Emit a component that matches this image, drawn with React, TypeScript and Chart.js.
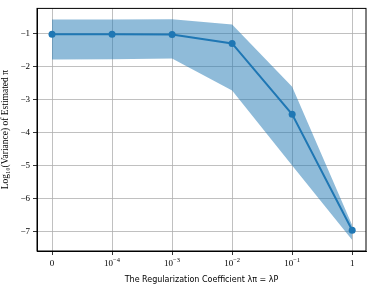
import React, { useEffect, useRef } from "react";
import { Chart, registerables } from "chart.js";

Chart.register(...registerables);

const categoryBase = ["0", "10", "10", "10", "10", "1"];
const categoryExp = ["", "−4", "−3", "−2", "−1", ""];
const meanValues = [-1.03, -1.03, -1.04, -1.31, -3.46, -6.97];
const upperValues = [-0.59, -0.59, -0.58, -0.74, -2.62, -6.82];
const lowerValues = [-1.80, -1.79, -1.77, -2.74, -5.01, -7.27];
const yTicks = [-7, -6, -5, -4, -3, -2, -1];

const blue = "#1f77b4";
const band = "rgba(31,119,180,0.5)";
const grid = "#b0b0b0";

export default function App() {
  const ref = useRef<HTMLCanvasElement | null>(null);
  useEffect(() => {
    const canvas = ref.current!;
    const pts = (arr: number[]) => arr.map((v, i) => ({ x: i, y: v }));
    const chart = new Chart(canvas, {
      type: "line",
      data: {
        datasets: [
          {
            data: pts(upperValues),
            borderWidth: 0,
            pointRadius: 0,
            backgroundColor: band,
            fill: "+1",
          },
          {
            data: pts(lowerValues),
            borderWidth: 0,
            pointRadius: 0,
            backgroundColor: band,
            fill: false,
          },
          {
            data: pts(meanValues),
            borderColor: blue,
            borderWidth: 2,
            pointRadius: 3.5,
            pointBackgroundColor: blue,
            pointBorderWidth: 0,
            fill: false,
          },
        ],
      },
      options: {
        responsive: false,
        animation: false,
        devicePixelRatio: 1,
        layout: { padding: { top: 6, right: 8, left: 0, bottom: 0 } },
        plugins: { legend: { display: false }, tooltip: { enabled: false } },
        scales: {
          x: {
            type: "linear",
            min: -0.25,
            max: 5.23,
            afterBuildTicks: (s: any) => {
              s.ticks = categoryBase.map((_, i) => ({ value: i }));
            },
            afterFit: (s: any) => {
              s.height = 34;
            },
            ticks: {
              callback: () => "",
              color: "#000",
              font: { family: "Liberation Serif", size: 9 },
              padding: 2,
              maxRotation: 0,
              autoSkip: false,
            },
            grid: { color: grid, lineWidth: 0.8, tickLength: 4, tickColor: "#000" },
            border: { color: "#000", width: 1 },
            title: {
              display: true,
              text: "The Regularization Coefficient λπ = λP",
              color: "#000",
              font: { family: "DejaVu Sans", size: 8 },
              padding: { top: 0, bottom: 0 },
            },
          },
          y: {
            type: "linear",
            min: -7.6,
            max: -0.25,
            afterBuildTicks: (s: any) => {
              s.ticks = yTicks.map((v) => ({ value: v }));
            },
            afterFit: (s: any) => {
              s.width = 37;
            },
            ticks: {
              callback: (v: any) => "−" + Math.abs(v as number),
              color: "#000",
              font: { family: "Liberation Serif", size: 9 },
              padding: 3,
            },
            grid: { color: grid, lineWidth: 0.8, tickLength: 4, tickColor: "#000" },
            border: { color: "#000", width: 1 },
            title: {
              display: true,
              text: "Log₁₀(Variance) of Estimated π",
              color: "#000",
              font: { family: "Liberation Serif", size: 9.5 },
              padding: { top: 0, bottom: 2 },
            },
          },
        },
      },
      plugins: [
        {
          id: "frame",
          afterDatasetsDraw(c: any) {
            const { ctx, chartArea: a } = c;
            ctx.save();
            ctx.strokeStyle = "#000";
            ctx.lineWidth = 1;
            ctx.strokeRect(a.left, a.top, a.right - a.left, a.bottom - a.top);
            ctx.restore();
          },
        },
        {
          id: "xlabels",
          afterDraw(c: any) {
            const { ctx, chartArea: a } = c;
            const xs = c.scales.x;
            ctx.save();
            ctx.fillStyle = "#000";
            ctx.textBaseline = "alphabetic";
            const baseY = a.bottom + 15;
            categoryBase.forEach((b, i) => {
              const px = xs.getPixelForValue(i);
              ctx.font = "9px 'Liberation Serif'";
              const bw = ctx.measureText(b).width;
              const e = categoryExp[i];
              ctx.font = "6.5px 'Liberation Serif'";
              const ew = e ? ctx.measureText(e).width : 0;
              const total = bw + ew;
              const start = px - total / 2;
              ctx.font = "9px 'Liberation Serif'";
              ctx.textAlign = "left";
              ctx.fillText(b, start, baseY);
              if (e) {
                ctx.font = "6.5px 'Liberation Serif'";
                ctx.fillText(e, start + bw, baseY - 4);
              }
            });
            ctx.restore();
          },
        },
      ],
    } as any);
    return () => chart.destroy();
  }, []);
  return (
    <div style={{ position: "fixed", left: 0, top: 0, width: 374, height: 285, background: "#fff" }}>
      <canvas ref={ref} width={374} height={285} />
    </div>
  );
}
